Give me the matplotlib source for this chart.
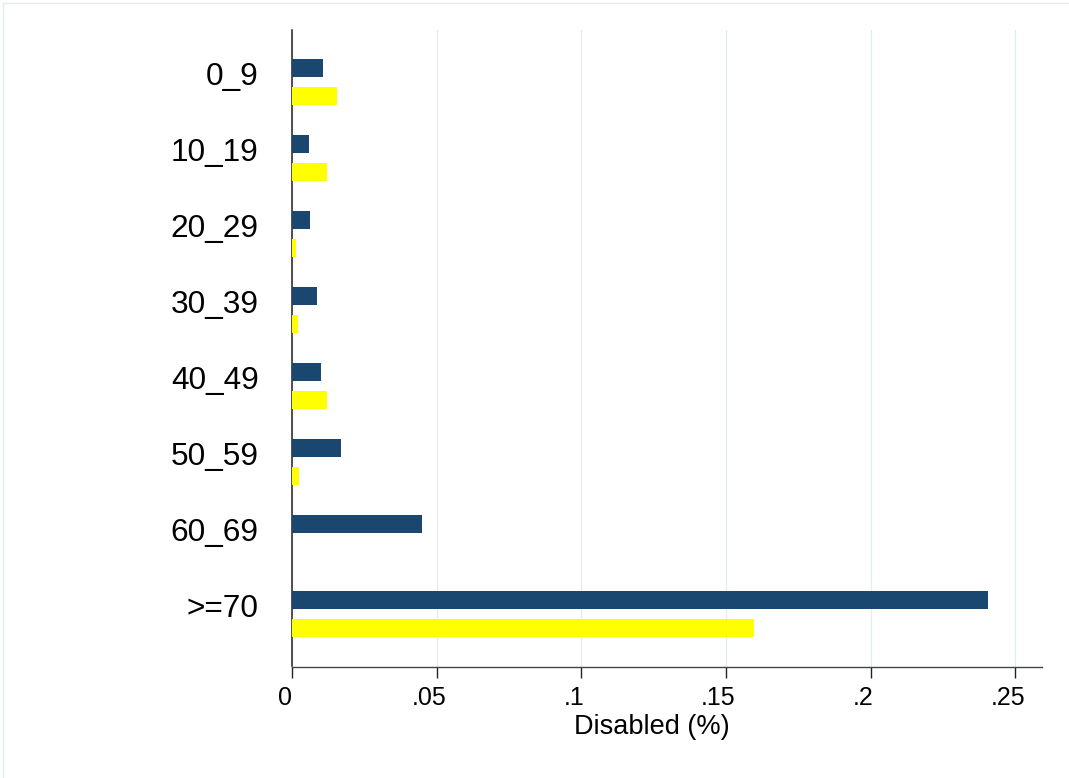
import numpy as np
import matplotlib
matplotlib.use('Agg')
import matplotlib.pyplot as plt
from matplotlib.lines import Line2D
from matplotlib.transforms import ScaledTranslation

age_groups = ['0_9', '10_19', '20_29', '30_39', '40_49', '50_59', '60_69', '>=70']
series_a = [0.0107, 0.0060, 0.0062, 0.0085, 0.0101, 0.0168, 0.0448, 0.2405]
series_b = [0.0156, 0.0120, 0.0015, 0.0022, 0.0122, 0.0024, 0.0, 0.1595]
xticks = [0, 0.05, 0.1, 0.15, 0.2, 0.25]
xtick_labels = ['0', '.05', '.1', '.15', '.2', '.25']

plt.rcParams['font.family'] = ['Liberation Sans', 'DejaVu Sans']

fig = plt.figure(figsize=(10.69, 7.78), dpi=100)
ax = fig.add_axes([292 / 1069, 1 - 666.5 / 778, (1042 - 292) / 1069, (666.5 - 30) / 778])

ypos = np.arange(len(age_groups))
bar_h = 0.237
off = 0.184
ax.barh(ypos - off, series_a, height=bar_h, color='#1a476f', zorder=3)
ax.barh(ypos + off, series_b, height=bar_h, color='#ffff00', zorder=3)

ax.set_ylim(7.69, -0.69)
ax.set_xlim(0, 0.2592)

ax.set_xticks(xticks)
ax.set_xticklabels(xtick_labels, fontsize=18)
ax.set_yticks(ypos)
ax.set_yticklabels(age_groups, fontsize=22.8)

ax.tick_params(axis='x', length=8, width=1, color='#222222', pad=6)
ax.tick_params(axis='y', length=0, pad=24)

# stata-ish label placement
for lab in ax.get_xticklabels():
    lab.set_transform(lab.get_transform() + ScaledTranslation(-7.5 / 100, 0, fig.dpi_scale_trans))
for lab in ax.get_yticklabels():
    lab.set_transform(lab.get_transform() + ScaledTranslation(0, 9 / 100, fig.dpi_scale_trans))

ax.grid(axis='x', color='#e4eded', linewidth=0.9, zorder=0)
ax.grid(axis='y', visible=False)

for side in ['top', 'right']:
    ax.spines[side].set_visible(False)
ax.spines['left'].set_color('#222222')
ax.spines['bottom'].set_color('#444444')
ax.spines['left'].set_linewidth(1.1)
ax.spines['bottom'].set_linewidth(1.0)

fig.text(652 / 1069, 1 - 734 / 778, 'Disabled (%)', fontsize=19.5, ha='center', va='baseline')

# outer graph region border
fig.add_artist(Line2D([2.5 / 1069, 2.5 / 1069], [0, 1 - 2.5 / 778], transform=fig.transFigure,
                      color='#e2ecec', linewidth=1))
fig.add_artist(Line2D([2.5 / 1069, 1], [1 - 2.5 / 778, 1 - 2.5 / 778], transform=fig.transFigure,
                      color='#e2ecec', linewidth=1))

fig.savefig('out.png', dpi=100, facecolor='white')
